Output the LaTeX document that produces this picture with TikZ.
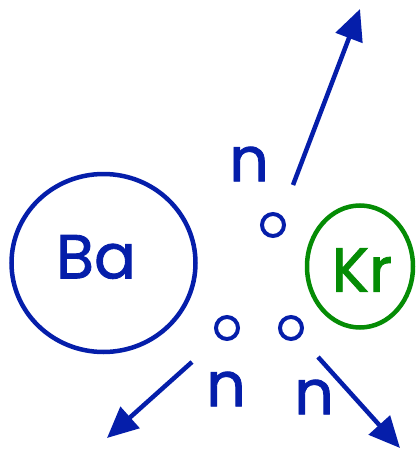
\documentclass[tikz,border=0pt]{standalone}
\usepackage{fontspec}
\setmainfont{Poppins}[FakeBold=1.4]
\usepackage{tikz}
\usetikzlibrary{arrows.meta,shapes.geometric}
\definecolor{atomblue}{RGB}{5,30,170}
\definecolor{atomgreen}{RGB}{5,140,5}

\begin{document}
\begin{tikzpicture}[x=1pt,y=-1pt,>={Triangle[length=31pt,width=28pt]},
  every node/.style={font=\fontsize{62}{62}\selectfont},
  nucleus/.style={ellipse,draw,line width=4.5pt,inner sep=0pt},
  neutron/.style={circle,draw=atomblue,line width=4pt,minimum size=22pt,inner sep=0pt},
  flight/.style={->,draw=atomblue,line width=4.5pt}]
\useasboundingbox (0,0) rectangle (417,450);
\node[nucleus,draw=atomblue,minimum width=184pt,minimum height=178pt] (ba) at (103.5,263) {};
\node[text=atomblue] (balab) at (96,257) {Ba};
\node[nucleus,draw=atomgreen,minimum width=106pt,minimum height=122pt] (kr) at (360,266.5) {};
\node[text=atomgreen] (krlab) at (362,270) {Kr};
\node[neutron] (n1) at (273,225) {};
\node[neutron] (n2) at (227,328) {};
\node[neutron] (n3) at (291,328) {};
\node[text=atomblue] (n1lab) at (249,164) {n};
\node[text=atomblue] (n2lab) at (226,389) {n};
\node[text=atomblue] (n3lab) at (314,397) {n};
\coordinate (t1) at (293,185);
\coordinate (h1) at (360,9);
\coordinate (t2) at (192,362);
\coordinate (h2) at (107,438);
\coordinate (t3) at (318,357);
\coordinate (h3) at (400,448);
\draw[flight] (t1) -- (h1);
\draw[flight] (t2) -- (h2);
\draw[flight] (t3) -- (h3);
\end{tikzpicture}
\end{document}
